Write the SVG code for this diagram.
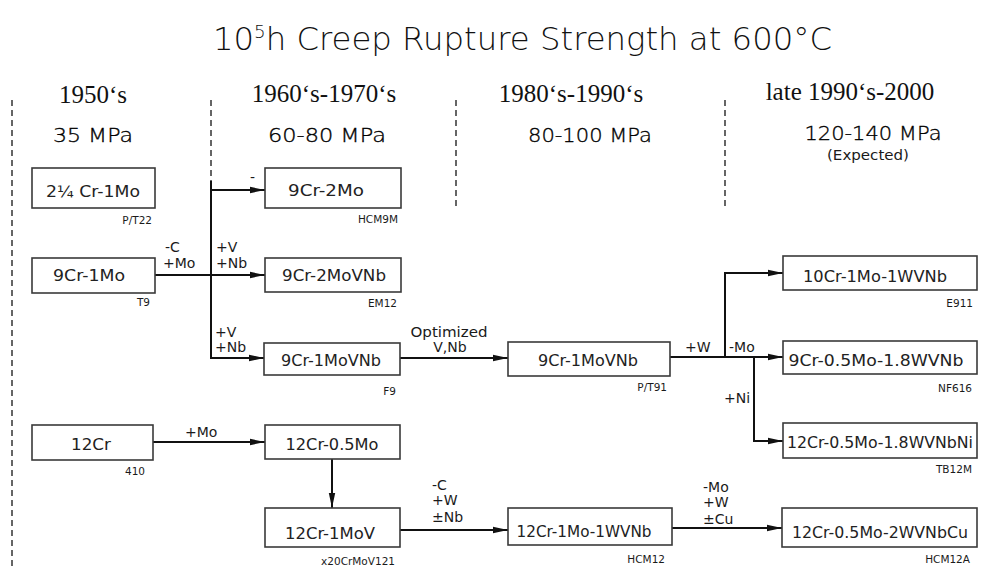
<svg xmlns="http://www.w3.org/2000/svg" width="987" height="568" viewBox="0 0 987 568">
<style>
.title{font-family:"DejaVu Sans","Liberation Sans",sans-serif;font-weight:200;font-size:32px;fill:#111}
.hdr{font-family:"Liberation Serif","Times New Roman",serif;font-weight:normal;font-size:25px;fill:#111;text-anchor:middle}
.mpa{font-family:"DejaVu Sans","Liberation Sans",sans-serif;font-weight:200;font-size:20px;fill:#000;stroke:#000;stroke-width:0.35;text-anchor:middle}
.box{fill:#fff;stroke:#3a3a3a;stroke-width:1.6}
.lbl{font-family:"DejaVu Sans","Liberation Sans",sans-serif;font-size:15px;fill:#222;text-anchor:middle}
.tag{font-family:"DejaVu Sans","Liberation Sans",sans-serif;font-size:10.5px;fill:#1a1a1a;text-anchor:end}
.cl{font-family:"DejaVu Sans","Liberation Sans",sans-serif;font-size:14px;fill:#1a1a1a}
.dash{stroke:#333;stroke-width:1.5;stroke-dasharray:6 4;fill:none}
.con{stroke:#111;stroke-width:2;fill:none}
</style>
<defs>
<marker id="arr" markerUnits="userSpaceOnUse" markerWidth="15" markerHeight="8" refX="15" refY="4" orient="auto">
<path d="M0,0.8 L15,4 L0,7.2 Z" fill="#111"/>
</marker>
</defs>
<rect width="987" height="568" fill="#fff"/>

<text class="title" x="213" y="50" textLength="619" lengthAdjust="spacingAndGlyphs">10<tspan dy="-12" font-size="18">5</tspan><tspan dy="12">h Creep Rupture Strength at 600°C</tspan></text>

<g id="headers">
<text class="hdr" x="93" y="103">1950‘s</text>
<text class="hdr" x="324" y="102">1960‘s-1970‘s</text>
<text class="hdr" x="571" y="102">1980‘s-1990‘s</text>
<text class="hdr" x="850" y="100">late 1990‘s-2000</text>
<text class="mpa" x="93" y="142" textLength="80" lengthAdjust="spacingAndGlyphs">35 MPa</text>
<text class="mpa" x="327" y="142" textLength="118" lengthAdjust="spacingAndGlyphs">60-80 MPa</text>
<text class="mpa" x="590" y="142" textLength="124" lengthAdjust="spacingAndGlyphs">80-100 MPa</text>
<text class="mpa" x="873" y="140" textLength="137" lengthAdjust="spacingAndGlyphs">120-140 MPa</text>
<text class="cl" x="868" y="160" text-anchor="middle" font-size="12" textLength="82" lengthAdjust="spacingAndGlyphs">(Expected)</text>
</g>

<g id="dividers">
<line class="dash" x1="12" y1="100" x2="12" y2="568"/>
<line class="dash" x1="211" y1="100" x2="211" y2="182"/>
<line class="dash" x1="456" y1="100" x2="456" y2="206"/>
<line class="dash" x1="725" y1="100" x2="725" y2="206"/>
</g>

<g id="connectors">
<line class="con" x1="155" y1="275" x2="265" y2="275" marker-end="url(#arr)"/>
<line class="con" x1="211" y1="181" x2="211" y2="359"/>
<line class="con" x1="210" y1="190" x2="265" y2="190" marker-end="url(#arr)"/>
<line class="con" x1="210" y1="358" x2="264" y2="358" marker-end="url(#arr)"/>
<line class="con" x1="400" y1="358" x2="508" y2="358" marker-end="url(#arr)"/>
<line class="con" x1="670" y1="357" x2="783" y2="357" marker-end="url(#arr)"/>
<polyline class="con" points="725,358 725,273 783,273" marker-end="url(#arr)"/>
<polyline class="con" points="754,357 754,441 783,441" marker-end="url(#arr)"/>
<line class="con" x1="153" y1="442" x2="265" y2="442" marker-end="url(#arr)"/>
<line class="con" x1="332" y1="459" x2="332" y2="508" marker-end="url(#arr)"/>
<line class="con" x1="400" y1="530" x2="508" y2="530" marker-end="url(#arr)"/>
<line class="con" x1="672" y1="528" x2="782" y2="528" marker-end="url(#arr)"/>
<text class="cl" x="250" y="182" font-size="10">-</text>
<text class="cl" x="165" y="252">-C</text>
<text class="cl" x="163" y="268">+Mo</text>
<text class="cl" x="216" y="252">+V</text>
<text class="cl" x="216" y="268">+Nb</text>
<text class="cl" x="215" y="337">+V</text>
<text class="cl" x="215" y="352">+Nb</text>
<text class="cl" x="449" y="337" text-anchor="middle" textLength="77" lengthAdjust="spacingAndGlyphs">Optimized</text>
<text class="cl" x="450" y="352" text-anchor="middle">V,Nb</text>
<text class="cl" x="685" y="352">+W</text>
<text class="cl" x="729" y="352">-Mo</text>
<text class="cl" x="724" y="403">+Ni</text>
<text class="cl" x="185" y="437">+Mo</text>
<text class="cl" x="432" y="490">-C</text>
<text class="cl" x="432" y="505">+W</text>
<text class="cl" x="432" y="522">±Nb</text>
<text class="cl" x="703" y="492">-Mo</text>
<text class="cl" x="703" y="507">+W</text>
<text class="cl" x="703" y="524">±Cu</text>
</g>

<g id="n-pt22">
<rect class="box" x="32" y="168" width="123" height="40"/>
<text class="lbl" x="93" y="197" textLength="94" lengthAdjust="spacingAndGlyphs">2¼ Cr-1Mo</text>
<text class="tag" x="152" y="224">P/T22</text>
</g>
<g id="n-t9">
<rect class="box" x="32" y="258" width="123" height="35"/>
<text class="lbl" x="89" y="281" textLength="72" lengthAdjust="spacingAndGlyphs">9Cr-1Mo</text>
<text class="tag" x="150" y="306">T9</text>
</g>
<g id="n-hcm9m">
<rect class="box" x="265" y="168" width="136" height="40"/>
<text class="lbl" x="326" y="196" textLength="76" lengthAdjust="spacingAndGlyphs">9Cr-2Mo</text>
<text class="tag" x="398" y="223">HCM9M</text>
</g>
<g id="n-em12">
<rect class="box" x="265" y="258" width="136" height="34"/>
<text class="lbl" x="334" y="281" textLength="104" lengthAdjust="spacingAndGlyphs">9Cr-2MoVNb</text>
<text class="tag" x="397" y="307">EM12</text>
</g>
<g id="n-f9">
<rect class="box" x="264" y="343" width="136" height="32"/>
<text class="lbl" x="331" y="366" textLength="100" lengthAdjust="spacingAndGlyphs">9Cr-1MoVNb</text>
<text class="tag" x="396" y="395">F9</text>
</g>
<g id="n-pt91">
<rect class="box" x="508" y="342" width="162" height="34"/>
<text class="lbl" x="588" y="366" textLength="100" lengthAdjust="spacingAndGlyphs">9Cr-1MoVNb</text>
<text class="tag" x="667" y="391">P/T91</text>
</g>
<g id="n-e911">
<rect class="box" x="783" y="256" width="194" height="34"/>
<text class="lbl" x="875" y="282" textLength="144" lengthAdjust="spacingAndGlyphs">10Cr-1Mo-1WVNb</text>
<text class="tag" x="973" y="307">E911</text>
</g>
<g id="n-nf616">
<rect class="box" x="783" y="341" width="194" height="33"/>
<text class="lbl" x="876" y="366" textLength="175" lengthAdjust="spacingAndGlyphs">9Cr-0.5Mo-1.8WVNb</text>
<text class="tag" x="972" y="392">NF616</text>
</g>
<g id="n-tb12m">
<rect class="box" x="783" y="423" width="194" height="35"/>
<text class="lbl" x="880" y="448" textLength="186" lengthAdjust="spacingAndGlyphs">12Cr-0.5Mo-1.8WVNbNi</text>
<text class="tag" x="972" y="473">TB12M</text>
</g>
<g id="n-410">
<rect class="box" x="32" y="425" width="121" height="35"/>
<text class="lbl" x="91" y="450" textLength="40" lengthAdjust="spacingAndGlyphs">12Cr</text>
<text class="tag" x="145" y="475">410</text>
</g>
<g id="n-12cr05mo">
<rect class="box" x="265" y="425" width="135" height="34"/>
<text class="lbl" x="332" y="450" textLength="93" lengthAdjust="spacingAndGlyphs">12Cr-0.5Mo</text>
</g>
<g id="n-x20">
<rect class="box" x="265" y="508" width="135" height="39"/>
<text class="lbl" x="330" y="539" textLength="90" lengthAdjust="spacingAndGlyphs">12Cr-1MoV</text>
<text class="tag" x="395" y="565">x20CrMoV121</text>
</g>
<g id="n-hcm12">
<rect class="box" x="508" y="508" width="164" height="37"/>
<text class="lbl" x="584" y="537" textLength="135" lengthAdjust="spacingAndGlyphs">12Cr-1Mo-1WVNb</text>
<text class="tag" x="665" y="563">HCM12</text>
</g>
<g id="n-hcm12a">
<rect class="box" x="782" y="508" width="195" height="39"/>
<text class="lbl" x="880" y="538" textLength="176" lengthAdjust="spacingAndGlyphs">12Cr-0.5Mo-2WVNbCu</text>
<text class="tag" x="970" y="563">HCM12A</text>
</g>
</svg>
